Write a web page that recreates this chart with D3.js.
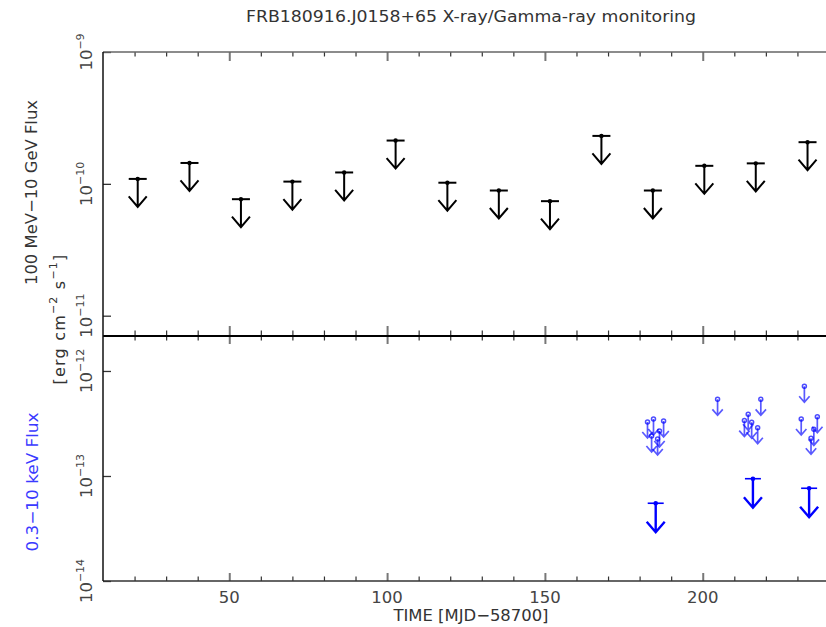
<!DOCTYPE html>
<html>
<head>
<meta charset="utf-8">
<script src="https://cdn.jsdelivr.net/npm/d3@7/dist/d3.min.js"></script>
<style>
  html, body { margin: 0; padding: 0; background: #fff; }
  svg { display: block; }
  text { font-family: "DejaVu Sans", sans-serif; }
</style>
</head>
<body>
<svg id="chart" width="826" height="627"></svg>
<script>
// ---------- data ----------
const chartTitle = "FRB180916.J0158+65 X-ray/Gamma-ray monitoring";
const xLabel = "TIME [MJD\u221258700]";
const gammaLabel = "100 MeV\u221210 GeV Flux";
const xrayLabel = "0.3\u221210 keV Flux";

const xDomain = [10, 240];
const xMajorTicks = [50, 100, 150, 200];
const xMinorTicks = [20, 30, 40, 60, 70, 80, 90, 110, 120, 130, 140, 160, 170, 180, 190, 210, 220, 230];

const gammaDomain = [10 ** -11.154, 1e-9];
const gammaTicks = [1e-9, 1e-10, 1e-11];
const gammaTickExp = ["\u22129", "\u221210", "\u221211"];

const xrayDomain = [1e-14, 10 ** -11.667];
const xrayTicks = [1e-12, 1e-13, 1e-14];
const xrayTickExp = ["\u221212", "\u221213", "\u221214"];

// Fermi-LAT 100 MeV-10 GeV upper limits
const gammaTime = [21.0, 37.4, 53.7, 70.0, 86.4, 102.7, 119.1, 135.4, 151.6, 167.9, 184.2, 200.5, 216.8, 233.2];
const gammaUL = [1.09e-10, 1.44e-10, 7.65e-11, 1.04e-10, 1.22e-10, 2.13e-10, 1.02e-10, 8.9e-11, 7.39e-11, 2.31e-10, 8.9e-11, 1.37e-10, 1.43e-10, 2.07e-10];

// X-ray single-observation upper limits
const xraySingleTime = [182.5, 184.4, 187.6, 186.3, 183.8, 185.7, 204.7, 218.4, 214.4, 213.2, 215.5, 217.4, 232.2, 231.2, 236.3, 235.2, 234.3];
const xraySingleUL = [3.27e-13, 3.49e-13, 3.34e-13, 2.68e-13, 2.40e-13, 2.25e-13, 5.37e-13, 5.37e-13, 3.87e-13, 3.37e-13, 3.25e-13, 2.88e-13, 7.15e-13, 3.49e-13, 3.67e-13, 2.78e-13, 2.29e-13];

// X-ray stacked upper limits
const xrayStackTime = [185.1, 215.9, 233.7];
const xrayStackUL = [5.5e-14, 9.42e-14, 7.64e-14];

// ---------- layout ----------
const svg = d3.select("#chart");
const left = 103, right = 829;
const gTop = 52, gBot = 336, xTop = 336, xBot = 581;

const x = d3.scaleLinear().domain(xDomain).range([left, right]);
const yG = d3.scaleLog().domain(gammaDomain).range([gBot, gTop]);
const yX = d3.scaleLog().domain(xrayDomain).range([xBot, xTop]);

const axisCol = "#333";

// x ticks via d3 axes (tick marks only)
function xTicks(yPos, dir, majorLen, minorLen, col) {
  const mk = (vals, len, w, c) => {
    const ax = (dir < 0 ? d3.axisTop(x) : d3.axisBottom(x))
      .tickValues(vals).tickSize(len).tickFormat("");
    const g = svg.append("g").attr("transform", `translate(0,${yPos})`).call(ax);
    g.select(".domain").remove();
    g.selectAll("line").attr("stroke", c).attr("stroke-width", w);
  };
  mk(xMinorTicks, minorLen, 1.2, col);
  mk(xMajorTicks, majorLen, 2, "#777");
}
xTicks(gTop, 1, 9, 4.5, axisCol);
xTicks(gBot, -1, 10, 5.5, axisCol);
xTicks(xTop, 1, 8, 4.5, axisCol);
xTicks(xBot, -1, 8, 4.5, axisCol);

// y ticks (left, inward)
function yTicks(scale, vals) {
  const ax = d3.axisRight(scale).tickValues(vals).tickSize(8).tickFormat("");
  const g = svg.append("g").attr("transform", `translate(${left},0)`).call(ax);
  g.select(".domain").remove();
  g.selectAll("line").attr("stroke", axisCol).attr("stroke-width", 1.3);
}
yTicks(yG, gammaTicks);
yTicks(yX, xrayTicks);

// frame lines
svg.append("line").attr("x1", left).attr("x2", right).attr("y1", gTop).attr("y2", gTop)
  .attr("stroke", "#666").attr("stroke-width", 1.5);
svg.append("line").attr("x1", left).attr("x2", right).attr("y1", gBot).attr("y2", gBot)
  .attr("stroke", "#000").attr("stroke-width", 2.2);
svg.append("line").attr("x1", left).attr("x2", right).attr("y1", xBot).attr("y2", xBot)
  .attr("stroke", axisCol).attr("stroke-width", 1.5);
svg.append("line").attr("x1", left).attr("x2", left).attr("y1", gTop).attr("y2", xBot)
  .attr("stroke", "#111").attr("stroke-width", 1.5);

// x tick labels
svg.append("g").selectAll("text").data(xMajorTicks).join("text")
  .attr("x", d => x(d)).attr("y", 603)
  .attr("text-anchor", "middle").attr("font-size", 16.5).attr("fill", "#444")
  .text(d => d);

// y tick labels (rotated, 10^n)
function yLabels(scale, vals, exps) {
  const g = svg.append("g");
  vals.forEach((v, i) => {
    const t = g.append("text")
      .attr("transform", `translate(92,${scale(v)}) rotate(-90)`)
      .attr("text-anchor", "middle").attr("font-size", 16.5).attr("fill", "#444");
    t.append("tspan").text("10");
    t.append("tspan").attr("dy", -8).attr("font-size", 11).text(exps[i]);
  });
}
yLabels(yG, gammaTicks, gammaTickExp);
yLabels(yX, xrayTicks, xrayTickExp);

// title
svg.append("text").attr("x", 471).attr("y", 21.5).attr("text-anchor", "middle")
  .attr("font-size", 16).attr("fill", "#333")
  .attr("textLength", 450).attr("lengthAdjust", "spacingAndGlyphs")
  .text(chartTitle);

// x label
svg.append("text").attr("x", 471).attr("y", 621).attr("text-anchor", "middle")
  .attr("font-size", 16).attr("fill", "#333")
  .attr("textLength", 155).attr("lengthAdjust", "spacingAndGlyphs")
  .text(xLabel);

// y labels
svg.append("text").attr("transform", "translate(37,192.5) rotate(-90)")
  .attr("text-anchor", "middle").attr("font-size", 16).attr("fill", "#333")
  .attr("textLength", 185).attr("lengthAdjust", "spacingAndGlyphs")
  .text(gammaLabel);

const unit = svg.append("text").attr("transform", "translate(65,319) rotate(-90)")
  .attr("text-anchor", "middle").attr("font-size", 16).attr("fill", "#333")
  .attr("letter-spacing", 1.2);
unit.append("tspan").text("[erg cm");
unit.append("tspan").attr("dy", -8).attr("font-size", 11).text("\u22122");
unit.append("tspan").attr("dy", 8).text(" s");
unit.append("tspan").attr("dy", -8).attr("font-size", 11).text("\u22121");
unit.append("tspan").attr("dy", 8).text("]");

svg.append("text").attr("transform", "translate(38,482) rotate(-90)")
  .attr("text-anchor", "middle").attr("font-size", 16).attr("fill", "#3a3aff")
  .attr("textLength", 139).attr("lengthAdjust", "spacingAndGlyphs")
  .text(xrayLabel);

// ---------- marks ----------
function arrowPath(px, py, len, hw, hh) {
  return `M${px},${py}L${px},${py + len}M${px - hw},${py + len - hh}L${px},${py + len}L${px + hw},${py + len - hh}`;
}

// gamma upper limits
const gG = svg.append("g");
const gData = gammaTime.map((t, i) => ({ t, v: gammaUL[i] }));
gG.selectAll("path.arr").data(gData).join("path").attr("class", "arr")
  .attr("d", d => arrowPath(x(d.t), yG(d.v), 28, 9, 10.5))
  .attr("fill", "none").attr("stroke", "#000").attr("stroke-width", 2);
gG.selectAll("line.cap").data(gData).join("line").attr("class", "cap")
  .attr("x1", d => x(d.t) - 9).attr("x2", d => x(d.t) + 9)
  .attr("y1", d => yG(d.v)).attr("y2", d => yG(d.v))
  .attr("stroke", "#000").attr("stroke-width", 2);
gG.selectAll("circle").data(gData).join("circle")
  .attr("cx", d => x(d.t)).attr("cy", d => yG(d.v)).attr("r", 2.2).attr("fill", "#000");

// x-ray single upper limits
const gS = svg.append("g");
const sData = xraySingleTime.map((t, i) => ({ t, v: xraySingleUL[i] }));
gS.selectAll("path").data(sData).join("path")
  .attr("d", d => arrowPath(x(d.t), yX(d.v), 16, 5.2, 6))
  .attr("fill", "none").attr("stroke", "#0000ff").attr("stroke-opacity", 0.65).attr("stroke-width", 1.7);
gS.selectAll("circle").data(sData).join("circle")
  .attr("cx", d => x(d.t)).attr("cy", d => yX(d.v)).attr("r", 2)
  .attr("fill", "none").attr("stroke", "#0000ff").attr("stroke-opacity", 0.7).attr("stroke-width", 1.5);

// x-ray stacked upper limits
const gK = svg.append("g");
const kData = xrayStackTime.map((t, i) => ({ t, v: xrayStackUL[i] }));
gK.selectAll("path").data(kData).join("path")
  .attr("d", d => arrowPath(x(d.t), yX(d.v), 29, 9, 10.5))
  .attr("fill", "none").attr("stroke", "#0000ff").attr("stroke-width", 2.4);
gK.selectAll("line").data(kData).join("line")
  .attr("x1", d => x(d.t) - 8).attr("x2", d => x(d.t) + 8)
  .attr("y1", d => yX(d.v)).attr("y2", d => yX(d.v))
  .attr("stroke", "#0000ff").attr("stroke-width", 1.6);
gK.selectAll("circle").data(kData).join("circle")
  .attr("cx", d => x(d.t)).attr("cy", d => yX(d.v)).attr("r", 2.3).attr("fill", "#0000ff");
</script>
</body>
</html>
